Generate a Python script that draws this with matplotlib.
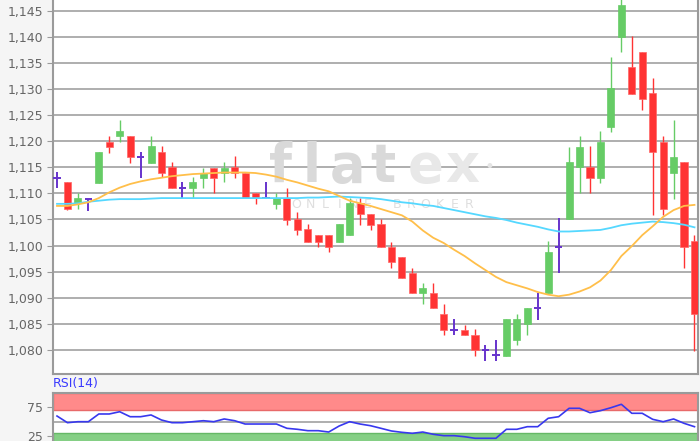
import matplotlib
matplotlib.use("Agg")
import matplotlib.pyplot as plt
import numpy as np

# daily candles (EUR/CHF style quote)
opens = [1.1130, 1.1121, 1.1081, 1.1089, 1.1119, 1.1199, 1.1209, 1.1210, 1.1170, 1.1159,
         1.1180, 1.1150, 1.1110, 1.1110, 1.1130, 1.1149, 1.1140, 1.1151, 1.1140, 1.1100,
         1.1091, 1.1079, 1.1091, 1.1050, 1.1031, 1.1020, 1.1020, 1.1007, 1.1020, 1.1081,
         1.1061, 1.1041, 1.0998, 1.0979, 1.0948, 1.0909, 1.0909, 1.0869, 1.0838, 1.0838,
         1.0829, 1.0800, 1.0790, 1.0789, 1.0819, 1.0849, 1.0880, 1.0909, 1.0998, 1.1051,
         1.1150, 1.1150, 1.1129, 1.1228, 1.1400, 1.1342, 1.1371, 1.1292, 1.1199, 1.1140,
         1.1160, 1.1009]
highs = [1.1141, 1.1121, 1.1100, 1.1090, 1.1180, 1.1210, 1.1241, 1.1210, 1.1180, 1.1210,
         1.1191, 1.1160, 1.1121, 1.1131, 1.1149, 1.1149, 1.1160, 1.1172, 1.1140, 1.1100,
         1.1121, 1.1100, 1.1111, 1.1064, 1.1041, 1.1020, 1.1020, 1.1041, 1.1091, 1.1091,
         1.1061, 1.1050, 1.1007, 1.0979, 1.0958, 1.0929, 1.0929, 1.0889, 1.0859, 1.0848,
         1.0840, 1.0810, 1.0819, 1.0859, 1.0869, 1.0880, 1.0909, 1.1009, 1.1052, 1.1189,
         1.1210, 1.1191, 1.1220, 1.1362, 1.1480, 1.1402, 1.1371, 1.1322, 1.1210, 1.1241,
         1.1160, 1.1020]
lows = [1.1110, 1.1069, 1.1070, 1.1067, 1.1119, 1.1178, 1.1199, 1.1158, 1.1129, 1.1159,
        1.1131, 1.1110, 1.1091, 1.1091, 1.1110, 1.1100, 1.1121, 1.1130, 1.1091, 1.1080,
        1.1090, 1.1070, 1.1039, 1.1020, 1.1007, 1.0998, 1.0988, 1.1007, 1.1020, 1.1039,
        1.1030, 1.0998, 1.0958, 1.0937, 1.0909, 1.0888, 1.0880, 1.0829, 1.0829, 1.0829,
        1.0789, 1.0778, 1.0778, 1.0789, 1.0810, 1.0829, 1.0857, 1.0909, 1.0948, 1.1051,
        1.1100, 1.1100, 1.1119, 1.1218, 1.1370, 1.1290, 1.1260, 1.1059, 1.1059, 1.1089,
        1.0958, 1.0799]
closes = [1.1130, 1.1070, 1.1091, 1.1089, 1.1180, 1.1189, 1.1220, 1.1169, 1.1170, 1.1191,
          1.1140, 1.1110, 1.1110, 1.1121, 1.1140, 1.1130, 1.1149, 1.1140, 1.1091, 1.1091,
          1.1091, 1.1091, 1.1049, 1.1030, 1.1007, 1.1007, 1.0998, 1.1041, 1.1081, 1.1061,
          1.1039, 1.0998, 1.0968, 1.0937, 1.0909, 1.0919, 1.0880, 1.0838, 1.0838, 1.0829,
          1.0800, 1.0800, 1.0790, 1.0859, 1.0859, 1.0880, 1.0880, 1.0988, 1.0998, 1.1160,
          1.1189, 1.1129, 1.1199, 1.1301, 1.1461, 1.1290, 1.1280, 1.1179, 1.1070, 1.1170,
          1.0998, 1.0869]

# moving averages (orange = short, cyan = long)
ma_short = [1.1076, 1.1076, 1.1079, 1.1083, 1.1091, 1.1102, 1.1111, 1.1118, 1.1123, 1.1127,
            1.1130, 1.1133, 1.1135, 1.1137, 1.1138, 1.1139, 1.1140, 1.1140, 1.1140, 1.1139,
            1.1136, 1.1132, 1.1126, 1.1121, 1.1115, 1.1109, 1.1104, 1.1095, 1.1086, 1.1081,
            1.1076, 1.1070, 1.1064, 1.1058, 1.1046, 1.1029, 1.1015, 1.1005, 1.0992, 1.0980,
            1.0966, 1.0953, 1.0940, 1.0930, 1.0924, 1.0918, 1.0911, 1.0906, 1.0903, 1.0906,
            1.0912, 1.0920, 1.0933, 1.0953, 1.0980, 1.0999, 1.1020, 1.1037, 1.1055, 1.1068,
            1.1076, 1.1078]
ma_long = [1.1080, 1.1080, 1.1081, 1.1084, 1.1086, 1.1088, 1.1089, 1.1089, 1.1089, 1.1090,
           1.1091, 1.1091, 1.1091, 1.1091, 1.1091, 1.1091, 1.1091, 1.1091, 1.1091, 1.1091,
           1.1091, 1.1091, 1.1091, 1.1091, 1.1092, 1.1092, 1.1093, 1.1094, 1.1093, 1.1092,
           1.1091, 1.1089, 1.1086, 1.1083, 1.1081, 1.1078, 1.1076, 1.1072, 1.1068, 1.1064,
           1.1060, 1.1056, 1.1053, 1.1049, 1.1044, 1.1040, 1.1036, 1.1031, 1.1027, 1.1027,
           1.1028, 1.1029, 1.1030, 1.1034, 1.1039, 1.1042, 1.1044, 1.1046, 1.1045, 1.1043,
           1.1040, 1.1035]

rsi = [59.8, 48.3, 50.0, 50.0, 63.3, 63.3, 67.2, 58.6, 58.6, 61.6,
       52.9, 48.3, 48.3, 50.0, 51.7, 50.0, 54.7, 51.7, 46.0, 46.0,
       46.0, 46.0, 38.6, 36.9, 34.5, 34.5, 32.2, 42.6, 50.0, 46.0,
       43.1, 38.6, 34.0, 31.7, 30.0, 32.2, 28.3, 25.9, 25.9, 24.1,
       21.4, 21.4, 21.4, 36.9, 36.9, 41.4, 41.4, 55.9, 58.6, 73.1,
       73.1, 65.5, 69.0, 74.1, 80.0, 64.5, 64.5, 54.1, 50.0, 54.7,
       47.2, 41.4]

price_ticks = [1.080, 1.085, 1.090, 1.095, 1.100, 1.105, 1.110, 1.115,
               1.120, 1.125, 1.130, 1.135, 1.140, 1.145]
rsi_ticks = [25, 75]

UP, DOWN, FLAT = "#66cc66", "#ff3333", "#6633cc"
GRID, SPINE, LABEL = "#a8a8a8", "#9a9a9a", "#666666"
W, H = 700, 441

fig = plt.figure(figsize=(W / 100, H / 100), dpi=100, facecolor="#f5f5f5")
ax = fig.add_axes([53 / W, 1 - 374 / H, 645 / W, 374 / H])
ax_rsi = fig.add_axes([53 / W, 1 - 450.7 / H, 645 / W, 58 / H])

o, h, l, c = map(np.array, (opens, highs, lows, closes))
x = np.arange(len(o))
up, down, flat = c > o, c < o, c == o

ax.vlines(x[up], l[up], h[up], color=UP, lw=1, zorder=3)
ax.vlines(x[down], l[down], h[down], color=DOWN, lw=1, zorder=3)
ax.bar(x[up], (c - o)[up], bottom=o[up], width=0.68, color=UP, edgecolor=UP, lw=0.5, zorder=3.2)
ax.bar(x[down], (c - o)[down], bottom=o[down], width=0.68, color=DOWN, edgecolor="#ff6666",
       lw=0.5, zorder=3.2)
ax.vlines(x[flat], l[flat], h[flat], color=FLAT, lw=1.4, zorder=3)
ax.hlines(o[flat], x[flat] - 0.36, x[flat] + 0.36, color=FLAT, lw=1.4, zorder=3)

ax.plot(x, ma_long, color="#55d8ff", lw=1.3, zorder=4)
ax.plot(x, ma_short, color="#ffbf4a", lw=1.3, zorder=4)

ax.set_xlim(-0.383, 61.335)
ax.set_ylim(1.0754, 1.14705)
ax.set_xticks([])
ax.set_yticks(price_ticks)
ax.set_yticklabels([f"{v:.3f}".replace(".", ",") for v in price_ticks])
ax.grid(axis="y", color=GRID, lw=1.3)
ax.set_axisbelow(True)
ax.tick_params(axis="y", length=4, color=SPINE, labelcolor=LABEL, labelsize=9, pad=3)
ax.spines["top"].set_visible(False)
for s in ("left", "bottom", "right"):
    ax.spines[s].set_color(SPINE)
    ax.spines[s].set_linewidth(1.5)

# watermark
tr = fig.dpi_scale_trans
for ch, px in zip("flatex", [280, 312, 347, 383, 426, 462]):
    col = "#d9d9d9" if ch in "flat" else "#e8e8e8"
    ax.text(px / 100, (H - 181.7) / 100, ch, transform=tr, fontsize=38, fontweight="bold",
            color=col, ha="center", va="baseline", zorder=1.5)
ax.text(489 / 100, (H - 167) / 100, "\u2022", transform=tr, fontsize=12, color="#e4e4e4",
        ha="center", va="center", zorder=1.5)
for i, ch in enumerate("ONLINE BROKER"):
    ax.text((296 + 14.4 * i) / 100, (H - 205) / 100, ch, transform=tr, fontsize=9,
            color="#dedede", ha="center", va="center", zorder=1.5)

# RSI panel
ax_rsi.axhspan(70, 100, facecolor="#ff8a8a", edgecolor="#e86a6a", lw=1, zorder=1)
ax_rsi.axhspan(0, 30, facecolor="#85cf85", edgecolor="#66b866", lw=1, zorder=1)
ax_rsi.axhline(50, color=GRID, lw=1.3, zorder=1.5)
ax_rsi.plot(x, rsi, color="#3838ee", lw=1.2, zorder=3)
ax_rsi.set_xlim(-0.383, 61.335)
ax_rsi.set_ylim(0, 100)
ax_rsi.set_xticks([])
ax_rsi.set_yticks(rsi_ticks)
ax_rsi.tick_params(axis="y", length=4, color=SPINE, labelcolor=LABEL, labelsize=9, pad=3)
for s in ax_rsi.spines.values():
    s.set_color(SPINE)
    s.set_linewidth(1.5)
fig.text(53 / W, 1 - 384 / H, "RSI(14)", color="#3a3aff", fontsize=9, va="center", ha="left")

fig.savefig("out.png", dpi=100, facecolor=fig.get_facecolor())
